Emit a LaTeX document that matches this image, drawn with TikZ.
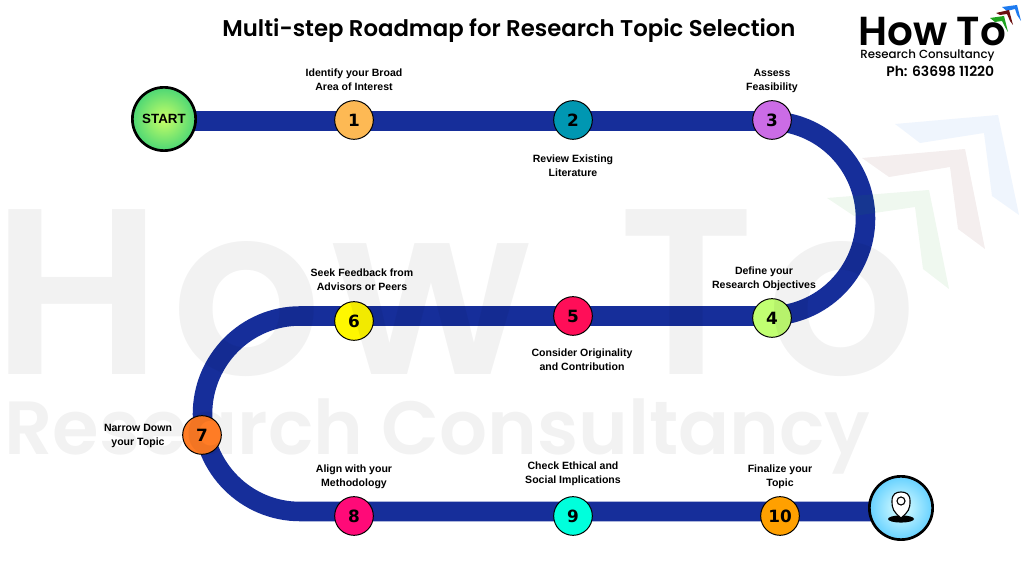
\documentclass[tikz,border=0pt]{standalone}
\usepackage{fontspec}
\setmainfont{Liberation Sans}
\newfontfamily\popfont[BoldFont={Poppins SemiBold}]{Poppins}
\newfontfamily\popmedium{Poppins Medium}
\newfontfamily\digitfont{DejaVu Sans}
\definecolor{mauduong}{HTML}{162E9A}
\definecolor{mauxanh}{HTML}{1E7BF0}
\definecolor{maunau}{HTML}{6B1010}
\definecolor{mauluc}{HTML}{1FA31F}
\definecolor{mauone}{HTML}{FDB954}
\definecolor{mautwo}{HTML}{0097B2}
\definecolor{mauthree}{HTML}{CB6CE6}
\definecolor{maufour}{HTML}{C1FF72}
\definecolor{maufive}{HTML}{FF0E58}
\definecolor{mausix}{HTML}{FFF700}
\definecolor{mauseven}{HTML}{FF7C25}
\definecolor{maueight}{HTML}{FF0A78}
\definecolor{maunine}{HTML}{00FFDC}
\definecolor{mauten}{HTML}{FFA000}
\usetikzlibrary{backgrounds}
\begin{document}
\begin{tikzpicture}[x=.025cm,y=.025cm,declare function={r=97.5;k=.5523*r;}]
	\tikzstyle{trackstyle} = [line width=13.9pt,mauduong]
	\tikzstyle{stepstyle} = [circle,draw=black,line width=.7pt,minimum size=27.5pt,inner sep=0pt,text=black,font=\digitfont\bfseries\fontsize{12}{12}\selectfont]
	\tikzstyle{labelstyle} = [align=center,inner sep=0pt,text=black,font=\bfseries\fontsize{7.5}{10.2}\selectfont]
	\tikzstyle{endstyle} = [circle,draw=black,line width=1.9pt,minimum size=45pt,inner sep=0pt]
	\tikzstyle{markstyle} = [text=black,text opacity=.05,inner sep=0pt,anchor=base west,font=\popfont\bfseries]
	\useasboundingbox (0,0) rectangle (1024,576);
	% title and logo
	\node[inner sep=0pt,font=\popfont\bfseries\fontsize{16.2}{16.2}\selectfont] (title) at (509,545) {Multi-step Roadmap for Research Topic Selection};
	\node[inner sep=0pt,anchor=base west,font=\popfont\bfseries\fontsize{28.8}{28.8}\selectfont] (logoname) at (858,530) {How To};
	\node[inner sep=0pt,anchor=base west,font=\popmedium\fontsize{8.4}{8.4}\selectfont] (logosub) at (860,517) {Research Consultancy};
	\node[inner sep=0pt,anchor=base west,font=\popfont\bfseries\fontsize{9.9}{9.9}\selectfont] (logophone) at (886,499) {Ph: 63698 11220};
	\fill[mauxanh] (1002,569)--(1017,571)--(1021,555)--(1017,561)--(1015,567)--(1007,565)--cycle;
	\fill[maunau] (996,563)--(1009,566)--(1013,551)--(1010,555)--(1007,562)--(1000,561)--cycle;
	\fill[mauluc] (990,558)--(1004,560)--(1008,544)--(1005,549)--(1002,555)--(995,554)--cycle;
	% ends and steps
	\node[endstyle,inner color=green!35!yellow!60!white,outer color=green!55!teal!70!white,font=\bfseries\fontsize{9.5}{9.5}\selectfont] (start) at (164,457) {START};
	\node[endstyle,inner color=cyan!12!white,outer color=cyan!70!blue!60!white] (finish) at (901,68) {};
	\node[stepstyle,fill=mauone] (one) at (354,456) {1};
	\node[stepstyle,fill=mautwo] (two) at (573,456) {2};
	\node[stepstyle,fill=mauthree] (three) at (772,456) {3};
	\node[stepstyle,fill=maufour] (four) at (772,258) {4};
	\node[stepstyle,fill=maufive] (five) at (573,260) {5};
	\node[stepstyle,fill=mausix] (six) at (354,255) {6};
	\node[stepstyle,fill=mauseven] (seven) at (202,141) {7};
	\node[stepstyle,fill=maueight] (eight) at (354,60) {8};
	\node[stepstyle,fill=maunine] (nine) at (573,60) {9};
	\node[stepstyle,fill=mauten] (ten) at (780,60) {10};
	% labels
	\node[labelstyle] (labone) at (354,496) {Identify your Broad\\Area of Interest};
	\node[labelstyle] (labtwo) at (573,410) {Review Existing\\Literature};
	\node[labelstyle] (labthree) at (772,495) {Assess\\Feasibility};
	\node[labelstyle] (labfour) at (764,297) {Define your\\Research Objectives};
	\node[labelstyle] (labfive) at (582,216) {Consider Originality\\and Contribution};
	\node[labelstyle] (labsix) at (362,296) {Seek Feedback from\\Advisors or Peers};
	\node[labelstyle] (labseven) at (138,140) {Narrow Down\\your Topic};
	\node[labelstyle] (labeight) at (354,99) {Align with your\\Methodology};
	\node[labelstyle] (labnine) at (573,102) {Check Ethical and\\Social Implications};
	\node[labelstyle] (labten) at (780,99) {Finalize your\\Topic};
	% map pin
	\fill[black] (901,57) ellipse [x radius=13,y radius=3.6];
	\draw[black,fill=white,line width=.8pt] (901,58)..controls +(140:10) and +(-90:8)..(892,75)
		..controls +(90:7) and +(180:5)..(901,84)..controls +(0:5) and +(90:7)..(910,75)
		..controls +(-90:8) and +(40:10)..(901,58)--cycle;
	\draw[black,line width=.8pt] (901,75) circle [radius=4];
	% the road
	\coordinate (bendtop) at (768,455);
	\coordinate (bendright) at (768,260);
	\coordinate (bendleft) at (300,260);
	\coordinate (bendlow) at (300,64.5);
	\begin{scope}[on background layer]
		\fill[white] (0,0) rectangle (1024,576);
		\draw[trackstyle] (start |- bendtop)--(bendtop)..controls +(0:k) and +(90:k)..(865.5,357.5)
			..controls +(-90:k) and +(0:k)..(bendright)--(bendleft)
			..controls +(180:k) and +(90:k)..(202.5,162)
			..controls +(-90:k) and +(180:k)..(bendlow)--(finish |- bendlow);
	\end{scope}
	% watermark
	\node[markstyle,font=\popfont\bfseries\fontsize{168}{168}\selectfont] (markname) at (0,201) {\kern-5.7pt H\kern7pt o\kern7pt w\hspace{62pt}T\kern8.5pt o};
	\node[markstyle,font=\popfont\bfseries\fontsize{53.6}{53.6}\selectfont] (marksub) at (4,121) {Research Consultancy};
	\fill[mauxanh,opacity=.07] (895,452)--(998,461)--(1019,361)--(992,380)--(984,443)--(920,433)--cycle;
	\fill[maunau,opacity=.07] (862,418)--(965,427)--(985,327)--(958,347)--(950,409)--(889,399)--cycle;
	\fill[mauluc,opacity=.07] (827,378)--(929,386)--(949,287)--(923,307)--(915,369)--(854,360)--cycle;
\end{tikzpicture}
\end{document}
